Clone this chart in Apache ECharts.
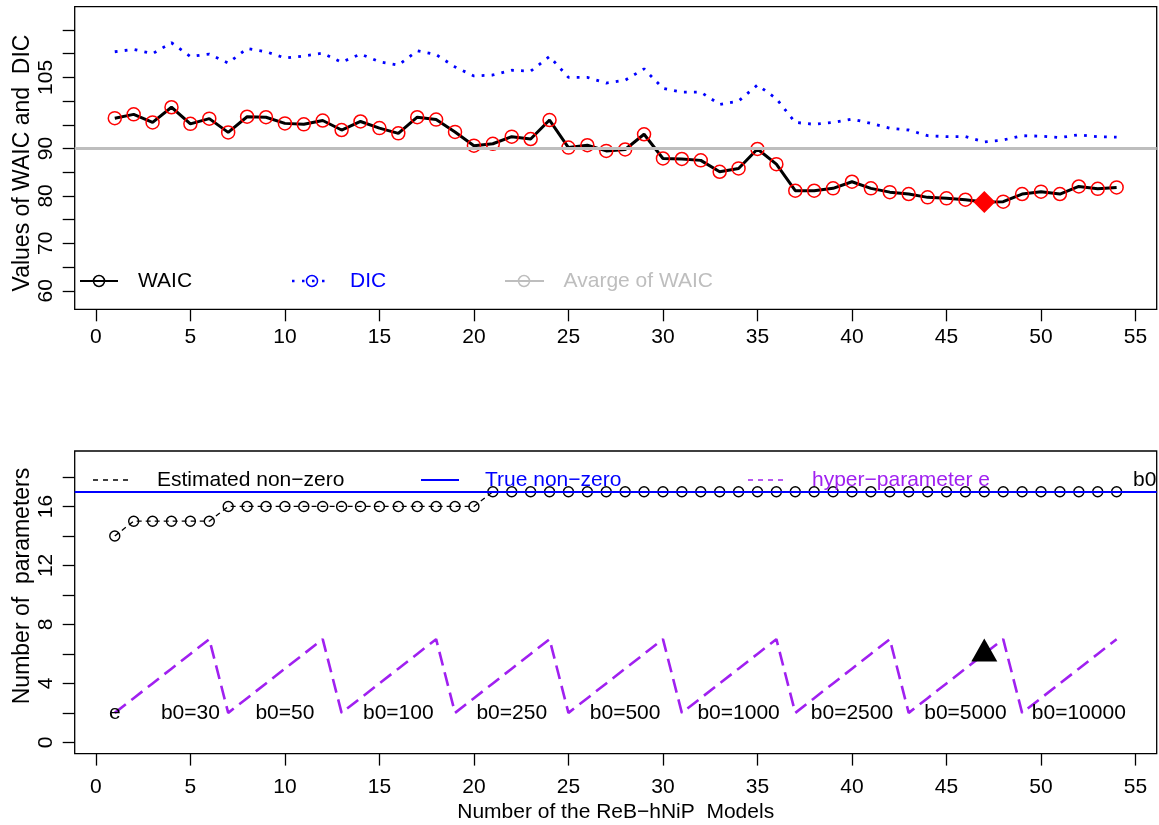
<!DOCTYPE html>
<html><head><meta charset="utf-8">
<script src="https://cdn.jsdelivr.net/npm/echarts@6/dist/echarts.min.js"></script>
<style>html,body{margin:0;padding:0;background:#fff}#c{width:1159px;height:825px}</style>
</head><body><div id="c"></div>
<script>
// ---------- data ----------
const models = [1,2,3,4,5,6,7,8,9,10,11,12,13,14,15,16,17,18,19,20,21,22,23,24,25,26,27,28,29,30,31,32,33,34,35,36,37,38,39,40,41,42,43,44,45,46,47,48,49,50,51,52,53,54];
const waic = [96.4,97.2,95.5,98.7,95.2,96.3,93.4,96.7,96.6,95.3,95.1,95.9,93.9,95.7,94.3,93.2,96.6,96.1,93.5,90.6,91.0,92.5,92.0,96.0,90.2,90.7,89.5,89.8,93.0,87.9,87.8,87.5,85.1,85.8,89.9,86.7,81.1,81.1,81.6,83.0,81.6,80.8,80.4,79.7,79.5,79.2,78.7,78.8,80.4,80.9,80.4,82.0,81.5,81.8];
const dic = [110.4,110.9,110.0,112.3,109.4,109.9,108.0,111.1,110.4,109.1,109.5,110.1,108.2,109.9,108.3,107.6,110.6,109.8,107.2,105.3,105.5,106.5,106.3,109.4,105.0,105.0,103.8,104.4,106.8,102.7,101.9,101.9,99.3,100.0,103.4,100.5,95.5,95.1,95.5,96.2,95.3,94.3,93.9,92.7,92.5,92.5,91.4,91.8,92.7,92.6,92.3,92.9,92.5,92.4];
const waicAverage = 90;
const bestModel = 47;
const estimatedNonZero = [14,15,15,15,15,15,16,16,16,16,16,16,16,16,16,16,16,16,16,16,17,17,17,17,17,17,17,17,17,17,17,17,17,17,17,17,17,17,17,17,17,17,17,17,17,17,17,17,17,17,17,17,17,17];
const trueNonZero = 17;
const hyperE = [2,3,4,5,6,7,2,3,4,5,6,7,2,3,4,5,6,7,2,3,4,5,6,7,2,3,4,5,6,7,2,3,4,5,6,7,2,3,4,5,6,7,2,3,4,5,6,7,2,3,4,5,6,7];
const groupLabelX = [1,5,10,16,22,28,34,40,46,52];
const groupLabelY = 2;
const groupLabels = ['e','b0=30','b0=50','b0=100','b0=250','b0=500','b0=1000','b0=2500','b0=5000','b0=10000'];
const xTicks = [0,5,10,15,20,25,30,35,40,45,50,55];
const topYTicks = [60,65,70,75,80,85,90,95,100,105,110,115];
const topYLabels = [60,70,80,90,105];
const botYTicks = [0,2,4,6,8,10,12,14,16,18];
const botYLabels = [0,4,8,12,16];

// ---------- chart ----------
const FONT = '"Liberation Sans", Arial, Helvetica, sans-serif';
const pairs = (ys) => models.map((m, i) => [m, ys[i]]);

function xAxisFor(gi, margin) {
  return {
    type: 'value', gridIndex: gi, min: -1.12, max: 56.12,
    axisLine: { show: false, onZero: false },
    axisTick: { show: true, inside: false, length: 12, customValues: xTicks, lineStyle: { color: '#000', width: 1.3 } },
    axisLabel: { customValues: xTicks, fontSize: 21, color: '#000', margin: margin, fontFamily: FONT },
    splitLine: { show: false }
  };
}
function yAxisFor(gi, min, max, ticks, labels) {
  return {
    type: 'value', gridIndex: gi, min: min, max: max,
    axisLine: { show: false, onZero: false },
    axisTick: { show: true, inside: false, length: 12, customValues: ticks, lineStyle: { color: '#000', width: 1.3 } },
    axisLabel: { customValues: labels, rotate: 90, fontSize: 21, color: '#000', margin: 18, fontFamily: FONT },
    splitLine: { show: false }
  };
}
function txt(x, y, s, color, opts) {
  return Object.assign({ type: 'text', x: x, y: y, z: 100,
    style: { text: s, fill: color, font: '21px ' + FONT, textAlign: 'left', textVerticalAlign: 'middle' } }, opts || {});
}
function seg(x1, x2, y, color, width, dash) {
  return { type: 'line', z: 100, shape: { x1: x1, y1: y, x2: x2, y2: y },
    style: { stroke: color, lineWidth: width, lineDash: dash || null } };
}
function ring(cx, cy, color) {
  return { type: 'circle', z: 101, shape: { cx: cx, cy: cy, r: 5.5 }, style: { fill: 'none', stroke: color, lineWidth: 1.5 } };
}

const option = {
  animation: false,
  backgroundColor: '#fff',
  textStyle: { fontFamily: FONT },
  grid: [
    { left: 74.7, top: 6.7, width: 1082, height: 302.6, show: true, borderColor: '#000', borderWidth: 1.3, backgroundColor: 'transparent' },
    { left: 74.7, top: 451, width: 1082, height: 302.6, show: true, borderColor: '#000', borderWidth: 1.3, backgroundColor: 'transparent' }
  ],
  xAxis: [xAxisFor(0, 17), xAxisFor(1, 23)],
  yAxis: [
    yAxisFor(0, 56.1, 119.9, topYTicks, topYLabels),
    yAxisFor(1, -0.76, 19.76, botYTicks, botYLabels)
  ],
  series: [
    { name: 'DIC', type: 'line', xAxisIndex: 0, yAxisIndex: 0, data: pairs(dic), symbol: 'none', z: 2,
      lineStyle: { color: '#0000FF', width: 2.8, type: [2.8, 7.2], cap: 'butt' },
      markLine: { silent: true, symbol: 'none', label: { show: false },
        lineStyle: { color: '#BEBEBE', width: 3, type: 'solid' }, data: [{ yAxis: waicAverage }] } },
    { name: 'WAIC', type: 'line', xAxisIndex: 0, yAxisIndex: 0, data: pairs(waic), z: 3,
      symbol: 'circle', symbolSize: 13,
      lineStyle: { color: '#000', width: 3 },
      itemStyle: { color: 'rgba(0,0,0,0)', borderColor: '#FF0000', borderWidth: 1.5 } },
    { name: 'best', type: 'scatter', xAxisIndex: 0, yAxisIndex: 0, z: 4,
      data: [[bestModel, waic[bestModel - 1]]], symbol: 'diamond', symbolSize: 22,
      itemStyle: { color: '#FF0000', opacity: 1 } },

    { name: 'Estimated', type: 'line', xAxisIndex: 1, yAxisIndex: 1, data: pairs(estimatedNonZero), z: 3,
      symbol: 'circle', symbolSize: 10,
      lineStyle: { color: '#000', width: 1.3, type: [5, 4] },
      itemStyle: { color: 'rgba(0,0,0,0)', borderColor: '#000', borderWidth: 1.4 },
      markLine: { silent: true, symbol: 'none', label: { show: false },
        lineStyle: { color: '#0000FF', width: 2, type: 'solid' }, data: [{ yAxis: trueNonZero }] } },
    { name: 'e', type: 'line', xAxisIndex: 1, yAxisIndex: 1, data: pairs(hyperE), symbol: 'none', z: 2,
      lineStyle: { color: '#A020F0', width: 2.6, type: [14, 7] } },
    { name: 'groupLabels', type: 'scatter', xAxisIndex: 1, yAxisIndex: 1, z: 5,
      data: groupLabelX.map((x, i) => ({ value: [x, groupLabelY], name: groupLabels[i] })),
      symbolSize: 1, itemStyle: { color: 'rgba(0,0,0,0)', opacity: 1 },
      label: { show: true, position: 'inside', formatter: p => p.name, color: '#000', opacity: 1,
        textBorderWidth: 0, fontSize: 21, fontFamily: FONT } },
    { name: 'bestE', type: 'scatter', xAxisIndex: 1, yAxisIndex: 1, z: 5,
      data: [[bestModel, hyperE[bestModel - 1]]], symbol: 'triangle', symbolSize: [26, 23], symbolOffset: [0, -4],
      itemStyle: { color: '#000', opacity: 1 } }
  ],
  graphic: [
    // y titles
    txt(23, 163, '', '#000', { rotation: Math.PI / 2, style: { text: 'Values of WAIC and  DIC', fill: '#000', font: '23px ' + FONT, textAlign: 'center', textVerticalAlign: 'middle' } }),
    txt(23, 586, '', '#000', { rotation: Math.PI / 2, style: { text: 'Number of  parameters', fill: '#000', font: '23px ' + FONT, textAlign: 'center', textVerticalAlign: 'middle' } }),
    // x title
    txt(615.7, 812, '', '#000', { style: { text: 'Number of the ReB\u2212hNiP  Models', fill: '#000', font: '21px ' + FONT, textAlign: 'center', textVerticalAlign: 'middle' } }),
    // top legend
    seg(80, 118, 281, '#000', 2), ring(99, 281, '#000'), txt(138, 281, 'WAIC', '#000'),
    seg(292, 327, 281, '#0000FF', 2.5, [2.5, 7.5]), ring(312, 281, '#0000FF'), txt(350, 281, 'DIC', '#0000FF'),
    seg(505, 544, 281, '#BEBEBE', 2), ring(524, 281, '#BEBEBE'), txt(563.6, 281, 'Avarge of WAIC', '#BEBEBE'),
    // bottom legend
    seg(93, 130, 480, '#000', 1.3, [5, 5]), txt(157, 480, 'Estimated non\u2212zero', '#000'),
    seg(421, 459, 480, '#0000FF', 2), txt(485, 480, 'True non\u2212zero', '#0000FF'),
    seg(748, 785, 480, '#A020F0', 1.5, [5, 5]), txt(812, 480, 'hyper\u2212parameter e', '#A020F0'),
    txt(1133, 480, 'b0', '#000')
  ]
};
const chart = echarts.init(document.getElementById('c'), null, { renderer: 'canvas' });
chart.setOption(option);
</script>
</body></html>
